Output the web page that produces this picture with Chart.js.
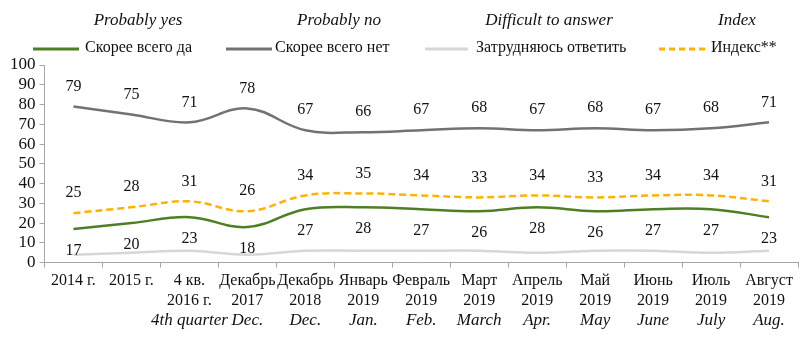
<!DOCTYPE html>
<html>
<head>
<meta charset="utf-8">
<script src="https://cdn.jsdelivr.net/npm/chart.js@4.4.0/dist/chart.umd.min.js"></script>
<style>
  body { margin: 0; background: #fff; }
  #wrap { position: relative; width: 800px; height: 337px; font-family: "Liberation Serif", serif; }
  #chart { position: absolute; left: 0; top: 0; }
  .en { position: absolute; top: 10px; font-style: italic; font-size: 17px; color: #111; transform: translateX(-50%); white-space: nowrap; }
  .leg { position: absolute; top: 38px; font-size: 16px; color: #111; white-space: nowrap; }
  .leg svg { position: absolute; top: 9px; }
</style>
</head>
<body>
<div id="wrap">
  <canvas id="chart" width="800" height="337"></canvas>
  <div class="en" style="left:138px">Probably yes</div>
  <div class="en" style="left:339px">Probably no</div>
  <div class="en" style="left:549px">Difficult to answer</div>
  <div class="en" style="left:737px">Index</div>

  <div class="leg" style="left:33px"><svg width="46" height="4"><line x1="0" y1="2" x2="46" y2="2" stroke="#4e7f24" stroke-width="3"/></svg><span style="margin-left:52px">Скорее всего да</span></div>
  <div class="leg" style="left:226px"><svg width="46" height="4"><line x1="0" y1="2" x2="46" y2="2" stroke="#727272" stroke-width="3"/></svg><span style="margin-left:49px">Скорее всего нет</span></div>
  <div class="leg" style="left:425px"><svg width="43" height="4"><line x1="0" y1="2" x2="43" y2="2" stroke="#d6d6d6" stroke-width="3"/></svg><span style="margin-left:51px">Затрудняюсь ответить</span></div>
  <div class="leg" style="left:659px"><svg width="47" height="4"><line x1="0" y1="2" x2="47" y2="2" stroke="#ffb300" stroke-width="3" stroke-dasharray="6,4"/></svg><span style="margin-left:52px">Индекс**</span></div>
</div>
<script>
var categories = [
  "2014 г.", "2015 г.", ["4 кв.", "2016 г."], ["Декабрь", "2017"], ["Декабрь", "2018"],
  ["Январь", "2019"], ["Февраль", "2019"], ["Март", "2019"], ["Апрель", "2019"],
  ["Май", "2019"], ["Июнь", "2019"], ["Июль", "2019"], ["Август", "2019"]
];
var englishLabels = ["", "", "4th quarter", "Dec.", "Dec.", "Jan.", "Feb.", "March", "Apr.", "May", "June", "July", "Aug."];

var probablyYes = [17, 20, 23, 18, 27, 28, 27, 26, 28, 26, 27, 27, 23];
var probablyNo = [79, 75, 71, 78, 67, 66, 67, 68, 67, 68, 67, 68, 71];
var difficult = [4, 5, 6, 4, 6, 6, 6, 6, 5, 6, 6, 5, 6];
var indexValues = [25, 28, 31, 26, 34, 35, 34, 33, 34, 33, 34, 34, 31];

var serif = "'Liberation Serif', serif";

// value labels drawn next to each line point
var valueLabels = {
  id: "valueLabels",
  afterDatasetsDraw(chart) {
    var ctx = chart.ctx;
    ctx.save();
    ctx.font = "16px " + serif;
    ctx.fillStyle = "#111";
    ctx.textAlign = "center";
    ctx.textBaseline = "middle";
    chart.data.datasets.forEach(function (ds, i) {
      if (ds.labelOffset === undefined) return;
      chart.getDatasetMeta(i).data.forEach(function (pt, j) {
        ctx.fillText(ds.data[j], pt.x, pt.y + ds.labelOffset);
      });
    });
    ctx.restore();
  }
};

// english line under the russian tick labels
var englishAxis = {
  id: "englishAxis",
  afterDraw(chart) {
    var ctx = chart.ctx;
    var xs = chart.scales.x;
    ctx.save();
    ctx.font = "italic 17px " + serif;
    ctx.fillStyle = "#111";
    ctx.textAlign = "center";
    ctx.textBaseline = "middle";
    englishLabels.forEach(function (t, j) {
      if (t) ctx.fillText(t, xs.getPixelForValue(j), 321);
    });
    ctx.restore();
  }
};

new Chart("chart", {
  type: "line",
  data: {
    labels: categories,
    datasets: [
      { label: "Скорее всего да", data: probablyYes, borderColor: "#4e7f24", borderWidth: 2.5, labelOffset: 22 },
      { label: "Скорее всего нет", data: probablyNo, borderColor: "#727272", borderWidth: 2.5, labelOffset: -20 },
      { label: "Затрудняюсь ответить", data: difficult, borderColor: "#d6d6d6", borderWidth: 2.5 },
      { label: "Индекс**", data: indexValues, borderColor: "#ffb300", borderWidth: 2.5, borderDash: [7, 4], labelOffset: -20 }
    ]
  },
  options: {
    responsive: false,
    animation: false,
    events: [],
    elements: {
      point: { radius: 0 },
      line: { tension: 0.4, fill: false }
    },
    layout: { padding: { top: 65, left: 6, right: 2, bottom: 23 } },
    plugins: {
      legend: { display: false },
      tooltip: { enabled: false }
    },
    scales: {
      x: {
        offset: true,
        grid: { display: true, offset: true, drawOnChartArea: false, tickLength: 5, color: "#a6a6a6" },
        border: { color: "#a6a6a6" },
        ticks: {
          autoSkip: false, maxRotation: 0, minRotation: 0,
          color: "#111", font: { family: serif, size: 16 }, padding: 4
        }
      },
      y: {
        min: 0, max: 100,
        grid: { display: true, drawOnChartArea: false, tickLength: 5, color: "#a6a6a6" },
        border: { color: "#a6a6a6" },
        ticks: { stepSize: 10, autoSkip: false, color: "#111", font: { family: serif, size: 17 }, padding: 4 }
      }
    }
  },
  plugins: [valueLabels, englishAxis]
});
</script>
</body>
</html>
